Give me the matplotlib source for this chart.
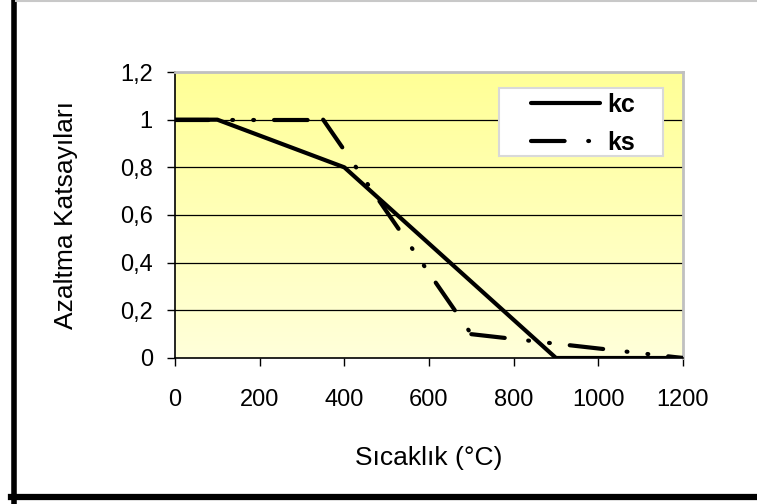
import numpy as np
import matplotlib.pyplot as plt
from matplotlib.lines import Line2D
from matplotlib.patches import Rectangle

plt.rcParams['font.family'] = ['Liberation Sans', 'DejaVu Sans']
plt.rcParams['lines.scale_dashes'] = False

# data
temp_kc = [0, 100, 400, 900, 1200]
kc = [1.0, 1.0, 0.8, 0.0, 0.0]
temp_ks = [0, 350, 700, 1200]
ks = [1.0, 1.0, 0.1, 0.0]

xticks = [0, 200, 400, 600, 800, 1000, 1200]
yticks = [0, 0.2, 0.4, 0.6, 0.8, 1.0, 1.2]
ylabels = ['0', '0,2', '0,4', '0,6', '0,8', '1', '1,2']

FS = 17
LW = 3.0
ks_dash = (24.2, 17.0, 0.6, 14.5, 0.6, 14.4)

fig = plt.figure(figsize=(7.57, 5.04), dpi=100)
ax = fig.add_axes([175 / 757, 1 - 358 / 504, 508 / 757, 286 / 504])

# yellow gradient background
grad = np.linspace(0, 1, 256)[:, None]
top = np.array([255, 255, 150]) / 255
bot = np.array([255, 255, 218]) / 255
img = bot + (top - bot) * grad
img = np.repeat(img[:, None, :], 2, axis=1)
ax.imshow(img, extent=[0, 1200, 0, 1.2], origin='lower', aspect='auto', zorder=0)

ax.set_xlim(0, 1200)
ax.set_ylim(0, 1.2)

for y in yticks[1:-1]:
    ax.axhline(y, color='black', lw=0.9, zorder=1)

ax.plot(temp_kc, kc, color='black', lw=LW, solid_capstyle='round', zorder=3)

# Excel restarts the dash pattern at every point of the series
for i in range(len(temp_ks) - 1):
    ax.plot(temp_ks[i:i + 2], ks[i:i + 2], color='black', lw=LW,
            dashes=ks_dash, dash_capstyle='round', zorder=3)

ax.set_xticks(xticks)
ax.set_xticklabels([str(t) for t in xticks], fontsize=FS)
ax.set_yticks(yticks)
ax.set_yticklabels(ylabels, fontsize=FS)
ax.tick_params(axis='x', direction='out', length=6, width=1, pad=16)
ax.tick_params(axis='y', direction='out', length=6, width=1, pad=10)

for s in ['left', 'bottom']:
    ax.spines[s].set_color('black')
    ax.spines[s].set_linewidth(1.2)
for s in ['top', 'right']:
    ax.spines[s].set_color('#c0c0c0')
    ax.spines[s].set_linewidth(2)

ax.set_xlabel('Sıcaklık (°C)', fontsize=19)
ax.xaxis.set_label_coords(0.5, -(446 - 358) / 286)
ax.set_ylabel('Azaltma Katsayıları', fontsize=19)
ax.yaxis.set_label_coords(-(175 - 78) / 508, 0.5)

# legend box
ax.add_patch(Rectangle(((499 - 175) / 508, (358 - 156) / 286), 164 / 508, 68 / 286,
                       transform=ax.transAxes, facecolor='white',
                       edgecolor='#d9d9d9', lw=1.5, zorder=4))
handles = [
    Line2D([0], [0], color='black', lw=LW, solid_capstyle='round'),
    Line2D([0], [0], color='black', lw=LW, dashes=ks_dash, dash_capstyle='round'),
]
leg = ax.legend(handles, ['kc', 'ks'], loc='center',
                bbox_to_anchor=((583 - 175) / 508, (358 - 124) / 286),
                frameon=False, prop={'weight': 'bold', 'size': 18},
                handlelength=2.75, handletextpad=0.3, labelspacing=0.55)
leg.set_zorder(5)

# outer frame of the picture
fig.add_artist(Line2D([13.5 / 757, 13.5 / 757], [0, 1], color='black', lw=4,
                      transform=fig.transFigure))
fig.add_artist(Line2D([11 / 757, 1], [1 - 497 / 504, 1 - 497 / 504], color='black', lw=4.5,
                      transform=fig.transFigure))
fig.add_artist(Line2D([16 / 757, 1], [1 - 1 / 504, 1 - 1 / 504], color='#c8c8c8', lw=1.5,
                      transform=fig.transFigure))

fig.savefig('out.png', dpi=100)
